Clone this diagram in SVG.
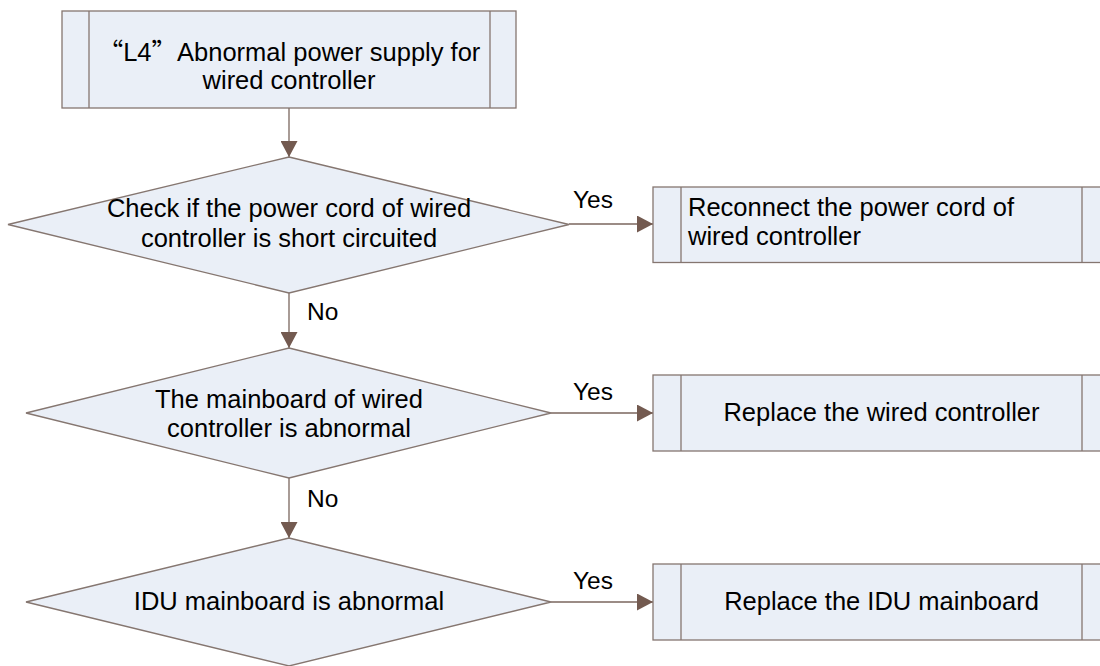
<svg xmlns="http://www.w3.org/2000/svg" width="1100" height="666" viewBox="0 0 1100 666">
  <defs>
    <marker id="arrow" viewBox="0 0 16 17" refX="16" refY="8.5" markerWidth="16" markerHeight="17" markerUnits="userSpaceOnUse" orient="auto">
      <path d="M0,0 L16,8.5 L0,17 z" fill="#735a50"/>
    </marker>
    <style>
      .shape { fill: #eaeff7; stroke: #857670; stroke-width: 1.3; }
      .bar { fill: none; stroke: #857670; stroke-width: 1.3; }
      .conn { fill: none; stroke: #7a665e; stroke-width: 1.3; marker-end: url(#arrow); }
      .txt { font-family: "Liberation Sans", Arial, sans-serif; font-size: 25.5px; fill: #000; }
      .mid { text-anchor: middle; }
      .lbl { font-family: "Liberation Sans", Arial, sans-serif; font-size: 24.5px; fill: #000; }
      .cjk { font-family: "Noto Sans CJK SC", "Liberation Sans", sans-serif; }
    </style>
  </defs>

  <rect width="1100" height="666" fill="#ffffff"/>

  <!-- connectors -->
  <g id="connectors">
    <line class="conn" x1="289" y1="108" x2="289" y2="157"/>
    <line class="conn" x1="569" y1="224" x2="653" y2="224"/>
    <line class="conn" x1="289" y1="293" x2="289" y2="348"/>
    <line class="conn" x1="551" y1="413" x2="653" y2="413"/>
    <line class="conn" x1="289" y1="478" x2="289" y2="538"/>
    <line class="conn" x1="551" y1="602" x2="653" y2="602"/>
    <text class="lbl" x="573" y="208">Yes</text>
    <text class="lbl" x="307" y="320">No</text>
    <text class="lbl" x="573" y="400">Yes</text>
    <text class="lbl" x="307" y="507">No</text>
    <text class="lbl" x="573" y="589">Yes</text>
  </g>

  <!-- start: predefined process -->
  <g id="start">
    <rect class="shape" x="62" y="11" width="454" height="97"/>
    <line class="bar" x1="89" y1="11" x2="89" y2="108"/>
    <line class="bar" x1="490" y1="11" x2="490" y2="108"/>
    <text class="txt mid" x="289" y="60.5"><tspan class="cjk">“</tspan>L4<tspan class="cjk">”</tspan>Abnormal power supply for</text>
    <text class="txt mid" x="289" y="89">wired controller</text>
  </g>

  <!-- decision 1 -->
  <g id="check-power-cord">
    <polygon class="shape" points="289,157 569,224.5 289,293 8,224.5"/>
    <text class="txt mid" x="289" y="217">Check if the power cord of wired</text>
    <text class="txt mid" x="289" y="247">controller is short circuited</text>
  </g>

  <g id="reconnect-cord">
    <rect class="shape" x="653" y="187" width="457" height="75.5"/>
    <line class="bar" x1="681" y1="187" x2="681" y2="262.5"/>
    <line class="bar" x1="1082" y1="187" x2="1082" y2="262.5"/>
    <text class="txt" x="688" y="216">Reconnect the power cord of</text>
    <text class="txt" x="688" y="245">wired controller</text>
  </g>

  <!-- decision 2 -->
  <g id="check-controller-board">
    <polygon class="shape" points="289,348 551,413 289,478 26,413"/>
    <text class="txt mid" x="289" y="408">The mainboard of wired</text>
    <text class="txt mid" x="289" y="437">controller is abnormal</text>
  </g>

  <g id="replace-controller">
    <rect class="shape" x="653" y="375" width="457" height="76"/>
    <line class="bar" x1="681" y1="375" x2="681" y2="451"/>
    <line class="bar" x1="1082" y1="375" x2="1082" y2="451"/>
    <text class="txt mid" x="881.5" y="421">Replace the wired controller</text>
  </g>

  <!-- decision 3 -->
  <g id="check-idu-board">
    <polygon class="shape" points="289,538 551,602 289,666 26,602"/>
    <text class="txt mid" x="289" y="610">IDU mainboard is abnormal</text>
  </g>

  <g id="replace-idu-board">
    <rect class="shape" x="653" y="564" width="457" height="76"/>
    <line class="bar" x1="681" y1="564" x2="681" y2="640"/>
    <line class="bar" x1="1082" y1="564" x2="1082" y2="640"/>
    <text class="txt mid" x="881.5" y="610">Replace the IDU mainboard</text>
  </g>
</svg>
